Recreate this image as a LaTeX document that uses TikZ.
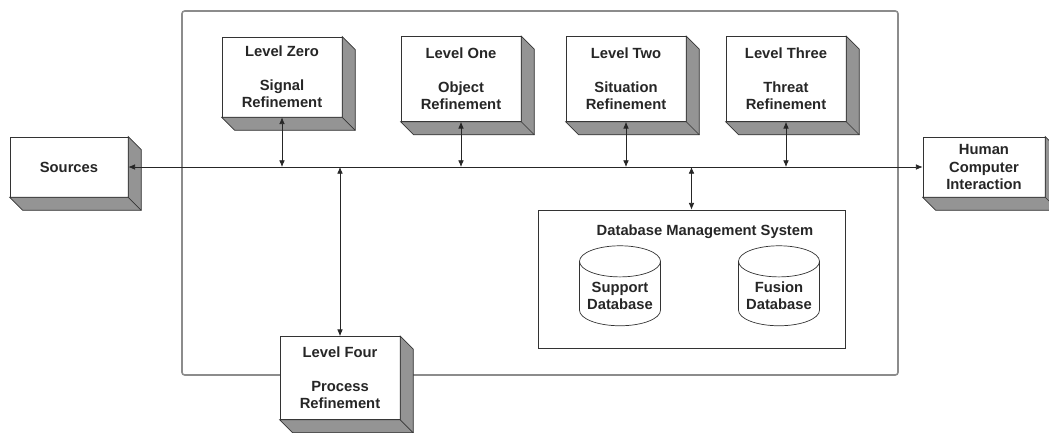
\documentclass[tikz,border=0pt]{standalone}
\usepackage{fontspec}
\setmainfont{Liberation Sans}
\usetikzlibrary{positioning,arrows.meta,calc,shapes.geometric}

\begin{document}
\begin{tikzpicture}[
  x=0.02cm, y=-0.02cm,
  >={Latex[length=3.8pt,width=3.2pt]},
  lab/.style={font=\fontsize{8.4}{9.7}\selectfont\bfseries, text=black!85},
  blk/.style={
    draw=black!80, thin, fill=white, align=center, lab, inner sep=1pt,
    minimum width=2.4cm, minimum height=1.7cm
  },
  side/.style={fill=black!42, draw=black!80, thin},
  frame/.style={draw=black!45, line width=0.9pt, rounded corners=1.5pt},
  arr/.style={<->, thin, draw=black!85},
  db/.style={
    cylinder, shape border rotate=90, aspect=0.45, draw=black!80, thin,
    minimum width=1.62cm, minimum height=1.6cm, align=center, lab, inner sep=1pt
  }
]
\useasboundingbox (0,0) rectangle (1049,433);

% --- cadre du systeme
\draw[frame] (182,11) rectangle (898,375);
\coordinate (bus) at (0,167);

% --- blocs
\node[blk, minimum width=2.36cm, minimum height=1.2cm] (src) at (69,167) {Sources};
\node[blk, minimum width=2.44cm, minimum height=1.2cm] (hci) at (984,167) {Human\\Computer\\Interaction};
\node[blk, minimum height=1.6cm] (l0) at (282,77) {Level Zero\\[9.7pt]Signal\\Refinement};
\node[blk] (l1) at (461,79) {Level One\\[9.7pt]Object\\Refinement};
\node[blk] (l2) at (626,79) {Level Two\\[9.7pt]Situation\\Refinement};
\node[blk] (l3) at (786,79) {Level Three\\[9.7pt]Threat\\Refinement};
\node[blk, minimum height=1.66cm] (l4) at (340,378) {Level Four\\[9.7pt]Process\\Refinement};

% --- faces grises (relief)
\foreach \b in {src,hci,l0,l1,l2,l3,l4} {
  \draw[side] (\b.north east) -- ++(13,13) -- ($(\b.south east)+(13,13)$)
    -- ($(\b.south west)+(13,13)$) -- (\b.south west) -- (\b.south east) -- cycle;
  \draw[thin, black!80] (\b.south east) -- ++(13,13);
}

% --- base de donnees
\node[draw=black!80, thin, minimum width=6.14cm, minimum height=2.76cm] (dbms) at (691.5,279) {};
\node[lab] (dbtitle) at (705,232) {Database Management System};
\node[db] (sup) at (620,296) {Support\\Database};
\node[db] (fus) at (779,296) {Fusion\\Database};

% --- liaisons
\draw[arr] (src.east) -- (hci.west);
\foreach \b in {l0,l1,l2,l3}
  \draw[arr] (\b.south) -- (\b.south |- bus);
\draw[arr] (l4.north |- bus) -- (l4.north);
\draw[arr] (dbms.north |- bus) -- (dbms.north);

\end{tikzpicture}
\end{document}
